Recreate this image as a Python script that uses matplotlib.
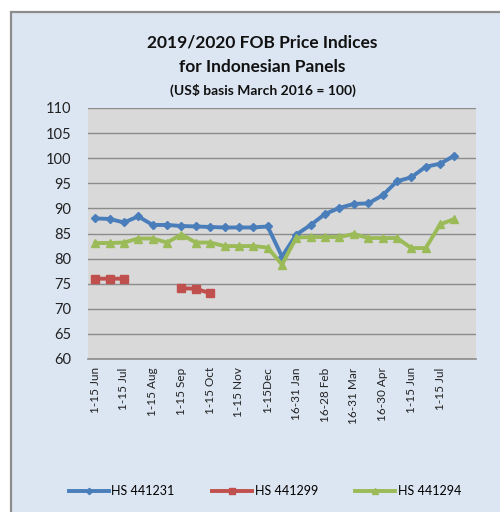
import numpy as np
import matplotlib.pyplot as plt
from matplotlib.patches import Rectangle

nan = np.nan

# 27 half-month slots on the category axis, only every other one labelled
periods = ['1-15 Jun', '', '1-15 Jul', '', '1-15 Aug', '', '1-15 Sep', '',
           '1-15 Oct', '', '1-15 Nov', '', '1-15Dec', '', '16-31 Jan', '',
           '16-28 Feb', '', '16-31 Mar', '', '16-30 Apr', '', '1-15 Jun', '',
           '1-15 Jul', '', '']

hs441231 = [88.0, 87.9, 87.2, 88.4, 86.7, 86.7, 86.5, 86.4, 86.3, 86.2, 86.2,
            86.2, 86.4, 80.4, 84.8, 86.7, 88.9, 90.1, 90.9, 91.0, 92.6, 95.4,
            96.2, 98.3, 98.9, 100.5, nan]
hs441299 = [76.0, 76.0, 76.0, nan, nan, nan, 74.1, 74.0, 73.1, nan, nan,
            nan, nan, nan, nan, nan, nan, nan, nan, nan, nan, nan,
            nan, nan, nan, nan, nan]
hs441294 = [83.1, 83.1, 83.2, 84.0, 84.0, 83.2, 84.8, 83.2, 83.2, 82.5, 82.5,
            82.5, 82.2, 78.8, 84.2, 84.3, 84.3, 84.3, 84.9, 84.1, 84.1, 84.1,
            82.1, 82.1, 86.8, 87.9, nan]

series_names = ['HS 441231', 'HS 441299', 'HS 441294']

plt.rcParams['font.family'] = ['Lato', 'DejaVu Sans']

fig = plt.figure(figsize=(5, 5.12), dpi=100)
fig.patch.set_facecolor('white')

# light blue chart area with grey frame (runs off the right and bottom edges)
frame = Rectangle((10.5 / 500, -0.1), 1.2, 1 - 11.5 / 512 + 0.1,
                  transform=fig.transFigure, facecolor='#DCE6F2',
                  edgecolor='#8C8C8C', linewidth=1.6, zorder=-5)
fig.patches.append(frame)

ax = fig.add_axes([88 / 500, 1 - 359 / 512, 388 / 500, 251 / 512])
ax.set_facecolor('#D9D9D9')

x = np.arange(len(periods))
ax.plot(x, hs441231, color='#4A7EBB', lw=2.8, marker='D', ms=4,
        label=series_names[0], zorder=3)
ax.plot(x, hs441299, color='#C0504D', lw=2.8, marker='s', ms=6,
        label=series_names[1], zorder=3)
ax.plot(x, hs441294, color='#9BBB59', lw=2.8, marker='^', ms=6,
        label=series_names[2], zorder=3)

ax.set_xlim(-0.5, len(periods) - 0.5)
ax.set_ylim(60, 110)
ax.set_yticks(np.arange(60, 111, 5))
ax.yaxis.grid(True, color='#8C8C8C', lw=1.0)
ax.set_axisbelow(True)
for s in ['top', 'right', 'left']:
    ax.spines[s].set_visible(False)
ax.spines['bottom'].set_color('#8C8C8C')
ax.spines['bottom'].set_linewidth(1.2)

ax.set_xticks(x)
ax.set_xticklabels(periods, rotation=90, fontsize=8.5, color='#222222')
ax.tick_params(axis='x', length=0, pad=6)
ax.tick_params(axis='y', length=0, pad=12, labelsize=10.5, labelcolor='#222222')

fig.text(0.525, 1 - 43 / 512, '2019/2020 FOB Price Indices', ha='center',
         va='center', fontsize=12.5, fontweight='bold', color='#111111')
fig.text(0.525, 1 - 67 / 512, 'for Indonesian Panels', ha='center',
         va='center', fontsize=12.5, fontweight='bold', color='#111111')
fig.text(0.525, 1 - 90 / 512, '(US$ basis March 2016 = 100)', ha='center',
         va='center', fontsize=10, fontweight='bold', color='#111111')

fig.legend(loc='center', bbox_to_anchor=(0.53, 1 - 491 / 512), ncol=3,
           frameon=False, fontsize=9, handlelength=3.2, columnspacing=3.0,
           handletextpad=0.2, markerscale=0.8)

fig.savefig('out.png', dpi=100)
